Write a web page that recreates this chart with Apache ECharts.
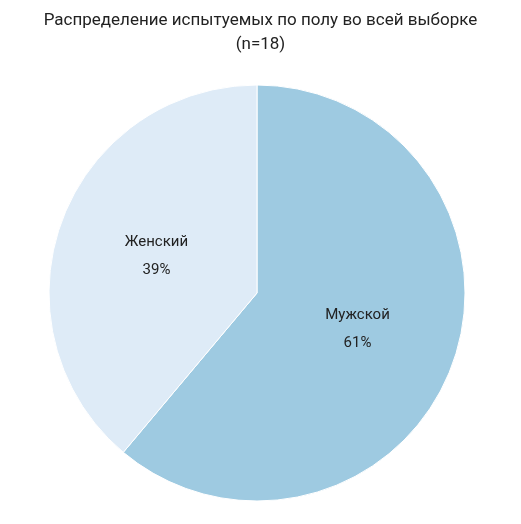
<!DOCTYPE html>
<html><head><meta charset="utf-8">
<script src="https://cdn.jsdelivr.net/npm/echarts@6/dist/echarts.min.js"></script>
<style>html,body{margin:0;padding:0;background:#fff}#c{width:521px;height:524px}</style>
</head><body><div id="c"></div>
<script>
const categories = ['Мужской', 'Женский'];
const counts = [11, 7];
const colors = ['#9ECAE1', '#DEEBF7'];
const chart = echarts.init(document.getElementById('c'));
chart.setOption({
  animation: false,
  title: {
    text: 'Распределение испытуемых по полу во всей выборке\n(n=18)',
    left: 'center', top: 4,
    textStyle: { fontFamily: 'Roboto', fontSize: 17, fontWeight: 'normal', color: '#222', lineHeight: 24 }
  },
  series: [{
    type: 'pie',
    center: [257, 293],
    radius: 208,
    startAngle: 90,
    clockwise: true,
    data: categories.map((c, i) => ({ name: c, value: counts[i], itemStyle: { color: colors[i] } })),
    label: {
      position: 'inside',
      fontFamily: 'Roboto', fontSize: 15, color: '#222', lineHeight: 28,
      formatter: p => p.name + '\n' + Math.round(p.percent) + '%'
    },
    labelLine: { show: false },
    itemStyle: { borderColor: '#fff', borderWidth: 1 }
  }]
});
</script></body></html>
